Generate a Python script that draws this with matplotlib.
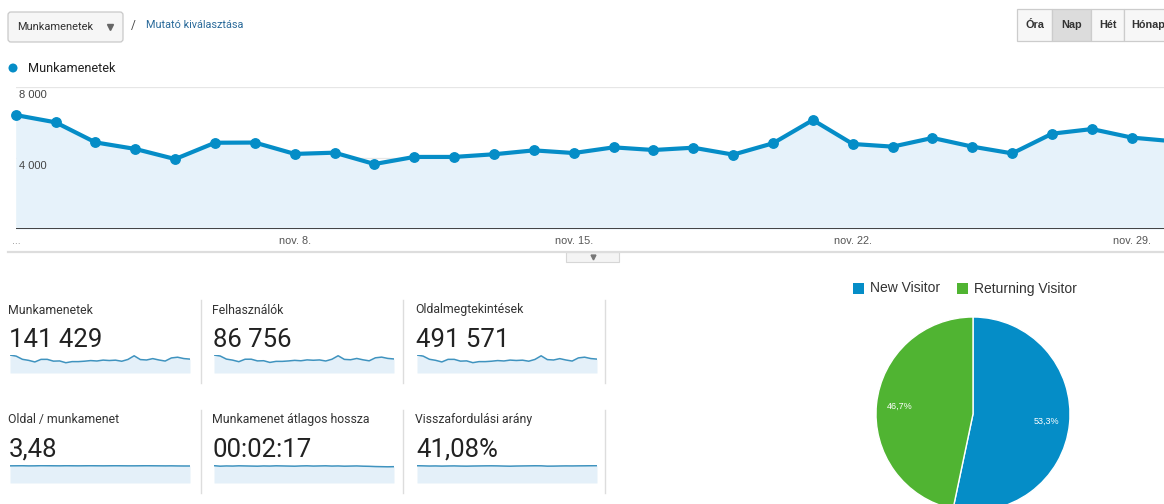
import matplotlib
matplotlib.use("Agg")
import matplotlib.pyplot as plt
from matplotlib.patches import Rectangle, FancyBboxPatch, Circle

# ---------------- data ----------------
days = list(range(1, 31))  # Nov 1 .. Nov 30
sessions = [6420, 6010, 4880, 4510, 3940, 4860, 4870, 4230, 4300, 3660,
            4060, 4060, 4210, 4430, 4280, 4600, 4450, 4580, 4190, 4830,
            6140, 4790, 4640, 5130, 4640, 4260, 5370, 5630, 5150, 4950]
y_ticks = [4000, 8000]
y_tick_labels = ["4 000", "8 000"]
x_ticks = [8, 15, 22, 29]
x_tick_labels = ["nov. 8.", "nov. 15.", "nov. 22.", "nov. 29."]

users = [3900, 3680, 3010, 2790, 2450, 2980, 2990, 2620, 2660, 2290,
         2520, 2520, 2610, 2740, 2650, 2840, 2760, 2830, 2600, 2980,
         3740, 2950, 2870, 3150, 2860, 2640, 3290, 3440, 3160, 3040]
pageviews = [22300, 20900, 17000, 15700, 13700, 16900, 16900, 14700, 15000, 12800,
             14100, 14100, 14600, 15400, 14900, 16000, 15500, 15900, 14600, 16800,
             21300, 16600, 16100, 17800, 16100, 14800, 18700, 19600, 17900, 17200]
pages_per_session = [3.47, 3.48, 3.49, 3.46, 3.47, 3.50, 3.49, 3.48, 3.47, 3.49,
                     3.48, 3.47, 3.48, 3.49, 3.48, 3.47, 3.48, 3.49, 3.48, 3.47,
                     3.47, 3.48, 3.49, 3.48, 3.47, 3.46, 3.47, 3.45, 3.44, 3.44]
avg_duration = [140, 136, 138, 137, 139, 138, 137, 136, 138, 137,
                139, 138, 137, 136, 138, 139, 137, 138, 139, 137,
                138, 136, 137, 138, 136, 135, 133, 132, 131, 132]
bounce_rate = [41.5, 41.2, 40.8, 41.0, 40.6, 40.9, 41.1, 40.7, 40.5, 40.8,
               41.0, 41.2, 41.3, 41.1, 40.7, 40.4, 40.8, 41.0, 41.2, 41.4,
               41.3, 40.5, 40.6, 40.9, 41.1, 41.0, 41.2, 41.3, 41.5, 41.6]

card_titles = ["Munkamenetek", "Felhasználók", "Oldalmegtekintések",
               "Oldal / munkamenet", "Munkamenet átlagos hossza", "Visszafordulási arány"]
card_values = ["141 429", "86 756", "491 571", "3,48", "00:02:17", "41,08%"]
card_series = [sessions, users, pageviews, pages_per_session, avg_duration, bounce_rate]

pie_labels = ["New Visitor", "Returning Visitor"]
pie_values = [53.3, 46.7]

buttons = ["Óra", "Nap", "Hét", "Hónap"]

# ---------------- styling ----------------
W, H = 1164, 504
BLUE = "#058dc7"
GREEN = "#50b432"
FILL = "#e6f2fa"
SPARK = "#3f93bf"
SPARK_FILL = "#e4f0f9"
ROBOTO = ["Roboto", "DejaVu Sans"]
ARIAL = ["Liberation Sans", "DejaVu Sans"]

fig = plt.figure(figsize=(W / 100, H / 100), dpi=100)
fig.patch.set_facecolor("white")


def px_axes(x0, y0, x1, y1, **kw):
    return fig.add_axes([x0 / W, 1 - y1 / H, (x1 - x0) / W, (y1 - y0) / H], **kw)


# overlay in pixel coordinates
ov = px_axes(0, 0, W, H)
ov.set_xlim(0, W)
ov.set_ylim(H, 0)
ov.axis("off")

# --- top-left dropdown ---
ov.add_patch(FancyBboxPatch((8, 12), 115, 30, boxstyle="round,pad=0,rounding_size=3",
                            fc="#f6f6f6", ec="#c9c9c9", lw=0.9))
ov.text(17, 27.5, "Munkamenetek", family=ROBOTO, fontsize=7.9, color="#333333",
        va="center", ha="left")
ov.plot([110], [26.5], marker="v", ms=4, color="#666666")
ov.text(131, 25, "/", family=ROBOTO, fontsize=8.5, color="#444444", va="center")
ov.text(146, 25.5, "Mutató kiválasztása", family=ROBOTO, fontsize=7.8, color="#2a6a9a",
        va="center", ha="left")

# --- top-right button group ---
bx = [1017, 1052, 1091, 1124, 1175]
for i, lab in enumerate(buttons):
    fc = "#dcdcdc" if lab == "Nap" else "#f7f7f7"
    ov.add_patch(Rectangle((bx[i], 9), bx[i + 1] - bx[i], 32, fc=fc, ec="#cccccc", lw=0.9))
    if lab == "Hónap":
        ov.text(bx[i] + 7, 25, lab, family=ARIAL, fontsize=7.8, weight="bold",
                color="#333333", va="center", ha="left")
    else:
        ov.text((bx[i] + bx[i + 1]) / 2, 25, lab, family=ARIAL, fontsize=7.8,
                weight="bold", color="#333333", va="center", ha="center")

# --- legend of main chart ---
ov.add_patch(Circle((13, 68), 4.5, fc=BLUE, ec="none"))
ov.text(28, 68.5, "Munkamenetek", family=ROBOTO, fontsize=9.2, color="#222222",
        va="center", ha="left")

# --- separator under main chart with tab ---
ov.plot([8, W], [252, 252], color="#dddddd", lw=1.6)
ov.add_patch(Rectangle((566, 252), 53, 10, fc="#f4f4f4", ec="#d6d6d6", lw=0.8))
ov.plot([592.5], [256.5], marker="v", ms=3.5, color="#777777")
ov.text(12, 241, "...", family=ARIAL, fontsize=7.5, color="#888888", va="center")

# ---------------- main chart ----------------
x0_px, step_px = 15.7, 39.86
ax = px_axes(x0_px, 87, W, 229)
ax.set_facecolor("none")
xs = [d - 1 for d in days]
ax.set_xlim(0, (W - x0_px) / step_px)
ax.set_ylim(0, 8000)
for v in y_ticks:
    ax.axhline(v, color="#e6e6e6", lw=0.9, zorder=0)
ax.fill_between(xs, sessions, 0, color=FILL, lw=0, zorder=1)
ax.plot(xs, sessions, color=BLUE, lw=3.0, marker="o", ms=6.8, zorder=3,
        clip_on=False, solid_joinstyle="round")
ax.axhline(0, color="#333333", lw=1.3, zorder=4)
for s in ax.spines.values():
    s.set_visible(False)
ax.set_xticks([])
ax.set_yticks([])
for v, lab in zip(y_ticks, y_tick_labels):
    ax.annotate(lab, xy=(0, v), xycoords=("axes fraction", "data"),
                xytext=(3, -8), textcoords="offset pixels", family=ARIAL,
                fontsize=8, color="#444444", va="center", ha="left")
for d, lab in zip(x_ticks, x_tick_labels):
    ax.annotate(lab, xy=(d - 1, 0), xycoords=("data", "axes fraction"),
                xytext=(0, -12), textcoords="offset pixels", family=ARIAL,
                fontsize=7.8, color="#555555", va="center", ha="center",
                annotation_clip=False)

# ---------------- score cards ----------------
col_x = [8, 212, 415]
row_y = [310, 420]
seps = [201, 403, 605]
for r in range(2):
    for sx in seps:
        ov.plot([sx, sx], [row_y[r] - 10, row_y[r] + 73], color="#dddddd", lw=1.0)
for i, (t, v, ser) in enumerate(zip(card_titles, card_values, card_series)):
    r, c = divmod(i, 3)
    cx, ty = col_x[c], row_y[r]
    ov.text(cx, ty, t, family=ROBOTO, fontsize=8.8, color="#333333",
            va="center", ha="left")
    ov.text(cx + 1, ty + 30, v, family=ROBOTO, fontsize=18.5, color="#222222",
            va="center", ha="left")
    top = ty + 45 if r == 0 else ty + 45
    sa = px_axes(cx + 2, top, cx + 182, top + 18)
    sa.set_facecolor("none")
    sx_ = list(range(len(ser)))
    sa.fill_between(sx_, ser, 0, color=SPARK_FILL, lw=0)
    sa.plot(sx_, ser, color=SPARK, lw=1.1)
    sa.set_xlim(0, len(ser) - 1)
    sa.set_ylim(0, max(ser) * (1.0 if r == 0 else 1.04))
    sa.axis("off")

# ---------------- pie ----------------
pcx, pcy, pr = 973, 414, 97
pa = px_axes(pcx - pr, pcy - pr, pcx + pr, pcy + pr)
wedges, texts, autotexts = pa.pie(
    pie_values, colors=[BLUE, GREEN], startangle=90, counterclock=False,
    radius=1, wedgeprops=dict(edgecolor="white", linewidth=1.0),
    autopct=lambda p: f"{p:.1f}%".replace(".", ","), pctdistance=0.76)
for t in autotexts:
    t.set_color("white")
    t.set_fontsize(6.5)
    t.set_family(ARIAL)
pa.set_xlim(-1, 1)
pa.set_ylim(-1, 1)
pa.set_aspect("equal")
pa.axis("off")

# pie legend
lx = [853, 957]
for x, lab, col in zip(lx, pie_labels, [BLUE, GREEN]):
    ov.add_patch(Rectangle((x, 283), 11, 11, fc=col, ec="none"))
    ov.text(x + 17, 288.5, lab, family=ARIAL, fontsize=10, color="#333333",
            va="center", ha="left")

fig.savefig("out.png", dpi=100, facecolor="white")
